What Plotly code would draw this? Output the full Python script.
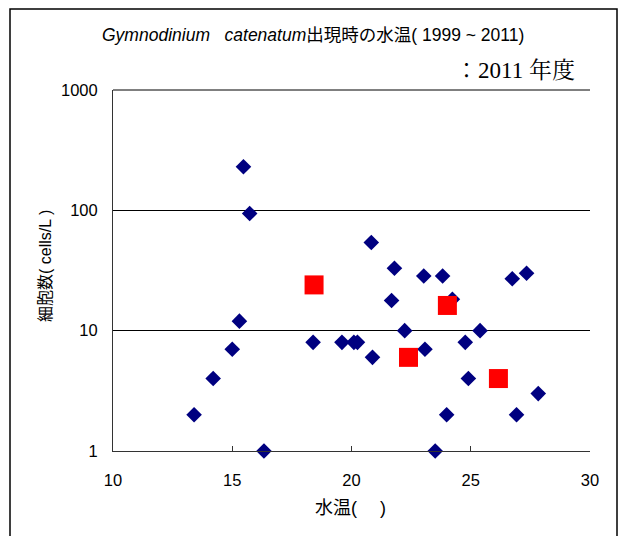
import plotly.graph_objects as go

# All-years data (1999-2011): water temperature (°C) and cell density (cells/L)
all_temp = [13.4, 14.2, 15.0, 15.3, 15.47, 15.73, 16.33, 18.39, 19.6, 20.1, 20.25,
            20.83, 21.8, 23.03, 23.82, 26.74, 27.34, 21.68, 24.23, 22.23, 25.39,
            20.88, 23.08, 24.77, 24.9, 27.83, 23.99, 26.92, 23.51]
all_cells = [2, 4, 7, 12, 230, 94, 1, 8, 8, 8, 8,
             54, 33, 28.5, 28.5, 27, 30, 17.8, 18.2, 10, 10,
             6, 7, 8, 4, 3, 2, 2, 1]

# 2011 data
y2011_temp = [18.43, 24.02, 22.39, 26.16]
y2011_cells = [24, 16.2, 6.0, 4.0]

x_ticks = [10, 15, 20, 25, 30]
y_ticks = [1, 10, 100, 1000]
y_tick_labels = ["1", "10", "100", "1000"]

title_text = "<i>Gymnodinium   catenatum</i>出現時の水温( 1999 ~ 2011)"
legend_text = "：2011 年度"
x_title = "水温(　 )"
y_title = "細胞数( cells/L )"

W, H = 618, 536
L, R, T, B = 113, 590, 90, 451

fig = go.Figure()
fig.add_trace(go.Scatter(
    x=all_temp, y=all_cells, mode="markers",
    marker=dict(symbol="diamond", size=12, color="#000080", line=dict(width=0)),
    showlegend=False, cliponaxis=False))
fig.add_trace(go.Scatter(
    x=y2011_temp, y=y2011_cells, mode="markers",
    marker=dict(symbol="square", size=19, color="#FF0000", line=dict(width=0)),
    showlegend=False, cliponaxis=False))

def px(x):
    return (x - L) / (R - L)

def py(y):
    return (B - y) / (B - T)

sans = "Liberation Sans, Arial, Noto Sans CJK JP"
fig.update_layout(
    width=W, height=H,
    margin=dict(l=L, r=W - R, t=T, b=H - B, pad=0),
    paper_bgcolor="white", plot_bgcolor="white",
    font=dict(family=sans, size=16, color="black"),
    xaxis=dict(range=[10, 30], tickvals=x_ticks, showgrid=False, zeroline=False,
               showline=True, linecolor="#333", linewidth=1,
               ticks="inside", ticklen=5, tickcolor="#333",
               tickfont=dict(size=16.5, family=sans), ticklabelstandoff=14),
    yaxis=dict(type="log", range=[0, 3], tickvals=y_ticks, ticktext=y_tick_labels,
               showgrid=True, gridcolor="black", gridwidth=1, zeroline=False,
               showline=True, linecolor="#333", linewidth=1, ticks="",
               tickfont=dict(size=16.5, family=sans), ticklabelstandoff=11),
    shapes=[
        dict(type="rect", xref="paper", yref="paper",
             x0=px(10), x1=px(617), y0=py(560), y1=py(9),
             line=dict(color="black", width=1.5), layer="below"),
        dict(type="line", xref="paper", yref="paper",
             x0=0, x1=1, y0=1, y1=1, line=dict(color="black", width=1)),
    ],
    annotations=[
        dict(text=title_text, xref="paper", yref="paper", x=px(313), y=py(35),
             showarrow=False, font=dict(size=17.5, family=sans), xanchor="center", yanchor="middle"),
        dict(text=legend_text, xref="paper", yref="paper", x=px(577), y=py(70),
             showarrow=False, font=dict(size=23, family="Liberation Serif, Noto Serif CJK JP, Noto Sans CJK JP"),
             xanchor="right", yanchor="middle"),
        dict(text=x_title, xref="paper", yref="paper", x=px(350), y=py(508),
             showarrow=False, font=dict(size=18, family=sans), xanchor="center", yanchor="middle"),
        dict(text=y_title, xref="paper", yref="paper", x=px(45), y=py(266),
             showarrow=False, font=dict(size=16, family=sans), textangle=-90,
             xanchor="center", yanchor="middle"),
    ],
)

fig.write_html("out.html", config={"displayModeBar": False},
               post_script="document.body.style.margin='0';")
